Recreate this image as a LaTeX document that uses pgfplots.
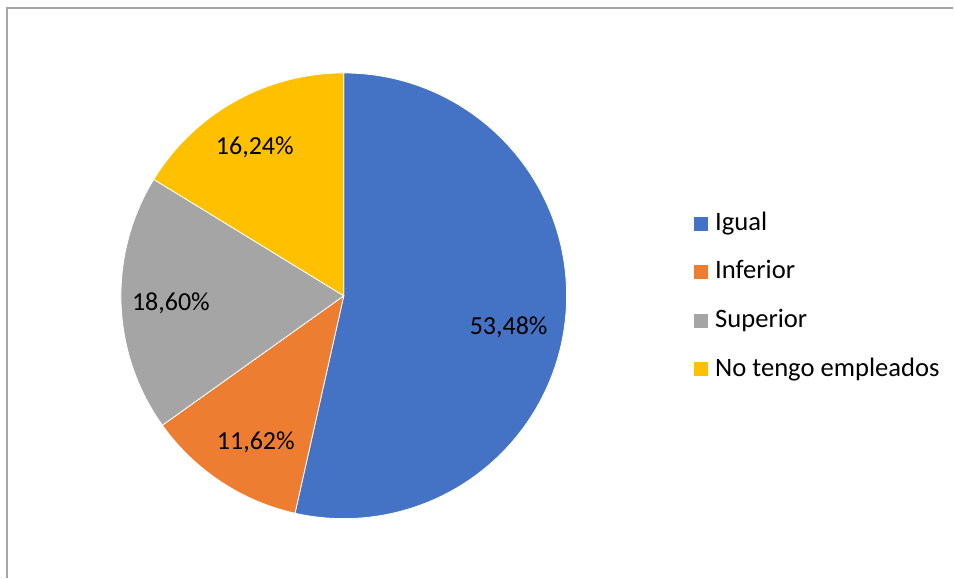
\documentclass[border=0pt]{standalone}
\usepackage{pgfplots}
\pgfplotsset{compat=1.18}
\usepackage{pgfplotstable}
\usepackage{fontspec}
\setmainfont{Carlito}
\definecolor{cIgual}{HTML}{4472C4}
\definecolor{cInferior}{HTML}{ED7D31}
\definecolor{cSuperior}{HTML}{A5A5A5}
\definecolor{cNoTengo}{HTML}{FFC000}
\definecolor{frameGray}{HTML}{A6A6A6}
\tikzset{lbl/.style={font=\fontsize{26}{31}\selectfont, inner sep=0pt, text=black},
         leg/.style={font=\fontsize{26.6}{31}\selectfont, inner sep=0pt, text=black}}

\pgfplotstableread[col sep=comma]{
label,value,color
Igual,53.48,cIgual
Inferior,11.62,cInferior
Superior,18.60,cSuperior
No tengo empleados,16.24,cNoTengo
}\piedata

\gdef\pietotal{0}
\foreach \i in {0,...,3}{%
  \pgfplotstablegetelem{\i}{value}\of\piedata
  \pgfmathparse{\pietotal+\pgfplotsretval}%
  \xdef\pietotal{\pgfmathresult}%
}

\begin{document}
\begin{tikzpicture}
\begin{axis}[
  xmin=0, xmax=954, ymin=0, ymax=578,
  width=954pt, height=578pt, scale only axis,
  hide axis, clip=false,
]
\path (axis cs:0,0) rectangle (axis cs:954,578);
% frame (cropped chart border)
\draw[frameGray, line width=1.3pt] (axis cs:7,0) -- (axis cs:7,570) -- (axis cs:954,570);

\pgfplotsextra{%
  \gdef\piecum{0}%
  \foreach \i in {0,...,3}{%
    \pgfplotstablegetelem{\i}{value}\of\piedata
    \let\pieval\pgfplotsretval
    \pgfplotstablegetelem{\i}{color}\of\piedata
    \let\piecol\pgfplotsretval
    \pgfmathsetmacro\pa{90-(\piecum/\pietotal)*360}%
    \pgfmathsetmacro\pb{90-((\piecum+\pieval)/\pietotal)*360}%
    \fill[fill=\piecol, draw=white, line width=0.8pt, line join=round]
      (axis cs:344,282) -- ++(\pa:223pt) arc[start angle=\pa, end angle=\pb, radius=223pt] -- cycle;
    \pgfmathparse{\piecum+\pieval}%
    \xdef\piecum{\pgfmathresult}%
  }%
}

% data labels
\node[lbl, anchor=base] at (axis cs:509,243) {53,48\%};
\node[lbl, anchor=base] at (axis cs:256,128) {11,62\%};
\node[lbl, anchor=base] at (axis cs:171,267) {18,60\%};
\node[lbl, anchor=base] at (axis cs:255,423) {16,24\%};

% legend
\fill[cIgual]    (axis cs:694,347.3) rectangle (axis cs:708.5,361.3);
\fill[cInferior] (axis cs:694,299.0) rectangle (axis cs:708.5,313.0);
\fill[cSuperior] (axis cs:694,250.0) rectangle (axis cs:708.5,264.0);
\fill[cNoTengo]  (axis cs:694,201.3) rectangle (axis cs:708.5,215.3);
\node[leg, anchor=base west] at (axis cs:715.5,347.0) {Igual};
\node[leg, anchor=base west] at (axis cs:715.5,299.0) {Inferior};
\node[leg, anchor=base west] at (axis cs:715.5,250.0) {Superior};
\node[leg, anchor=base west] at (axis cs:715.5,201.3) {No tengo empleados};
\end{axis}
\end{tikzpicture}
\end{document}
